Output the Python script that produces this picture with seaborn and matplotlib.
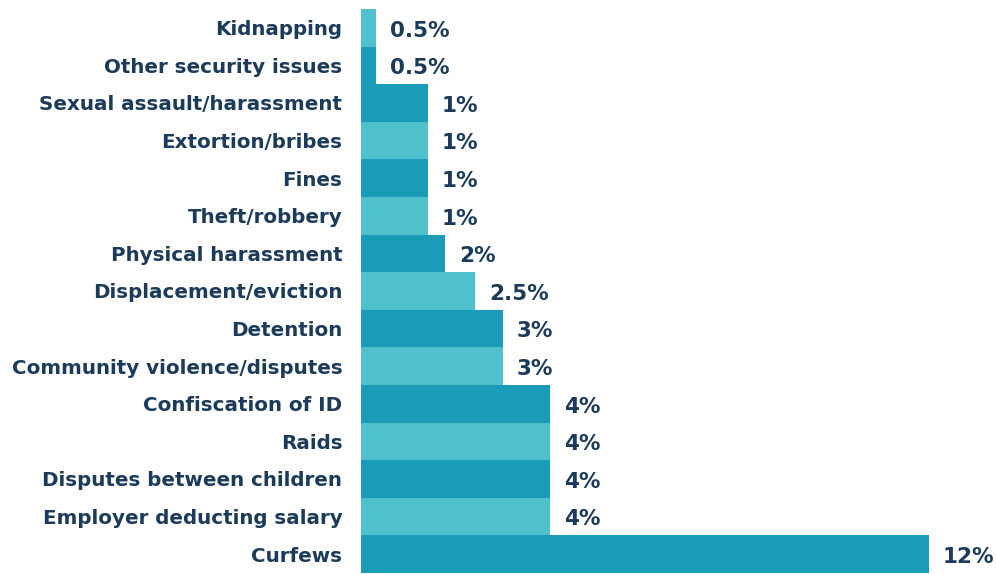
import matplotlib
matplotlib.use("Agg")
import matplotlib.pyplot as plt
import seaborn as sns
import pandas as pd

categories = ["Kidnapping", "Other security issues", "Sexual assault/harassment",
              "Extortion/bribes", "Fines", "Theft/robbery", "Physical harassment",
              "Displacement/eviction", "Detention", "Community violence/disputes",
              "Confiscation of ID", "Raids", "Disputes between children",
              "Employer deducting salary", "Curfews"]
values = [0.32, 0.32, 1.42, 1.42, 1.42, 1.42, 1.78, 2.41, 3.0, 3.0, 4.0, 4.0, 4.0, 4.0, 12.0]
labels = ["0.5%", "0.5%", "1%", "1%", "1%", "1%", "2%", "2.5%", "3%", "3%",
          "4%", "4%", "4%", "4%", "12%"]
DARK = "#1a9bb8"
LIGHT = "#4fc1cd"
colors = [LIGHT, DARK, DARK, LIGHT, DARK, LIGHT, DARK, LIGHT, DARK, LIGHT,
          DARK, LIGHT, DARK, LIGHT, DARK]
TEXT = "#1c3a5a"

sns.set_theme(style="white")
plt.rcParams["font.family"] = ["DejaVu Sans"]

df = pd.DataFrame({"category": categories, "value": values})

fig = plt.figure(figsize=(9.96, 5.74), dpi=100)
ax = fig.add_axes([361 / 996, 1 / 574, 635 / 996, 564 / 574])
sns.barplot(data=df, y="category", x="value", hue="category",
            palette=dict(zip(categories, colors)), order=categories,
            width=1.0, saturation=1, legend=False, ax=ax, linewidth=0)

ax.set_xlim(0, 635 / 47.3)
ax.set_ylim(len(categories) - 0.5, -0.5)
for s in ax.spines.values():
    s.set_visible(False)
ax.set_xticks([])
ax.set_xlabel("")
ax.set_ylabel("")
ax.tick_params(axis="y", length=0, pad=13.5)
ax.set_yticks(range(len(categories)))
ax.set_yticklabels(categories, fontsize=14.3, fontweight="bold", color=TEXT)

for i, (v, lab) in enumerate(zip(values, labels)):
    ax.annotate(lab, xy=(v, i), xytext=(10, -2), textcoords="offset points",
                ha="left", va="center", fontsize=15.5, fontweight="bold", color=TEXT)

fig.savefig("out.png", dpi=100)
